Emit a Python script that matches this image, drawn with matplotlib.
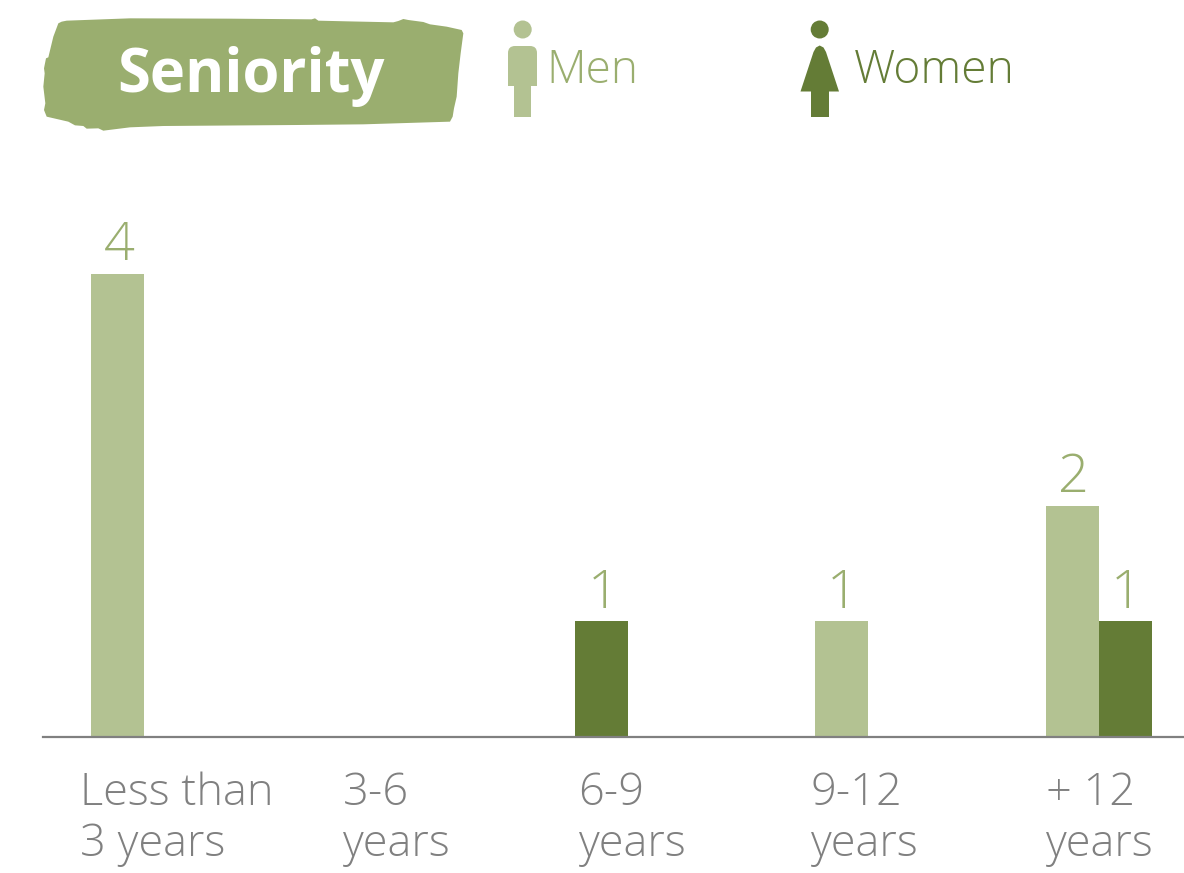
import matplotlib
matplotlib.use("Agg")
import matplotlib.pyplot as plt
from matplotlib.patches import Polygon, Circle, FancyBboxPatch, Rectangle
from matplotlib import font_manager as fm

# Chart data
categories = ["Less than\n3 years", "3-6\nyears", "6-9\nyears", "9-12\nyears", "+ 12\nyears"]
men = [4, 0, 0, 1, 2]
women = [0, 0, 1, 0, 1]

# Layout, in figure pixels
W, H = 1184, 873
BASE_Y, TOP_Y = 737, 274
AXIS_LEFT = 43
men_left = [91, 322, 522, 814.5, 1046]
women_left = [144, 375, 575, 868, 1098.5]
label_left = [80.5, 343, 578.5, 810.5, 1046]
BAR_W = 53

LIGHT = "#b3c292"
DARK = "#647c36"
BRUSH = "#9aae6f"
GREY = "#808080"

names = {f.name for f in fm.fontManager.ttflist}
family = "Open Sans" if "Open Sans" in names else "DejaVu Sans"
plt.rcParams["font.family"] = family

fig = plt.figure(figsize=(W / 100, H / 100), dpi=100, facecolor="white")

# Bars on a linear axis whose baseline and top are set in pixels
ax = fig.add_axes([AXIS_LEFT / W, 1 - BASE_Y / H, (W - AXIS_LEFT) / W, (BASE_Y - TOP_Y) / H])
ax.set_xlim(AXIS_LEFT, W)
ax.set_ylim(0, 4)
ax.patch.set_alpha(0)
for side in ("top", "left", "right"):
    ax.spines[side].set_visible(False)
ax.spines["bottom"].set_color(GREY)
ax.spines["bottom"].set_linewidth(1.6)
ax.set_yticks([])
ax.set_xticks(label_left, categories, ha="left", color=GREY, fontsize=32.5,
              fontweight="light", linespacing=1.22)
ax.tick_params(axis="x", length=0, pad=24.5)


def draw_series(lefts, values, color):
    for x, v in zip(lefts, values):
        if v:
            ax.bar(x, v, width=BAR_W, align="edge", color=color, clip_on=False, zorder=2)
            ax.annotate(str(v), (x + BAR_W / 2, v), xytext=(1, 0.5), textcoords="offset points",
                        ha="center", va="bottom", color=BRUSH, fontsize=39,
                        fontweight="light", annotation_clip=False)


draw_series(men_left, men, LIGHT)
draw_series(women_left, women, DARK)

# Header artwork drawn in pixel coordinates
deco = fig.add_axes([0, 0, 1, 1], zorder=5)
deco.set_xlim(0, W)
deco.set_ylim(H, 0)
deco.axis("off")

# Brush-stroke outline, with a slightly torn edge
brush_zoom = [(95, 65), (110, 62), (300, 55), (600, 56), (845, 58), (855, 55), (865, 62), (950, 64),
              (1090, 67), (1105, 63), (1120, 57), (1135, 60), (1180, 66), (1200, 73), (1250, 80),
              (1295, 90), (1300, 100), (1292, 160), (1285, 220), (1280, 290), (1272, 325), (1268, 350),
              (1260, 365), (1000, 373), (800, 375), (400, 378), (300, 382), (220, 392), (205, 385),
              (170, 386), (160, 378), (135, 376), (115, 365), (50, 350), (42, 330), (46, 310),
              (40, 260), (44, 220), (42, 205), (48, 175), (55, 172), (70, 110), (85, 70)]
brush = [(30 + x / 3, y / 3) for x, y in brush_zoom]
deco.add_patch(Polygon(brush, closed=True, facecolor=BRUSH, edgecolor="none"))
deco.text(250.5, 92, "Seniority", color="white", fontsize=43, fontweight="bold",
          ha="center", va="baseline")

# Men pictogram
deco.add_patch(Circle((522.7, 29.5), 9, facecolor=LIGHT, edgecolor="none"))
deco.add_patch(FancyBboxPatch((508, 46), 29, 30, boxstyle="round,pad=0,rounding_size=7",
                              facecolor=LIGHT, edgecolor="none"))
deco.add_patch(Rectangle((508, 60), 29, 26, facecolor=LIGHT, edgecolor="none"))
deco.add_patch(Rectangle((514, 85), 17, 32, facecolor=LIGHT, edgecolor="none"))
deco.text(546.5, 83, "Men", color=BRUSH, fontsize=33, fontweight="light", va="baseline")

# Women pictogram
deco.add_patch(Circle((819.7, 29.5), 9, facecolor=DARK, edgecolor="none"))
deco.add_patch(Polygon([(800.5, 91.5), (813.5, 52), (816, 47.5), (819.7, 45.5), (823.5, 47.5),
                        (826, 52), (839, 91.5)], closed=True, facecolor=DARK, edgecolor="none"))
deco.add_patch(Rectangle((811, 90), 18, 27, facecolor=DARK, edgecolor="none"))
deco.text(854, 83, "Women", color=DARK, fontsize=33.3, fontweight="light", va="baseline")

fig.savefig("out.png", dpi=100, facecolor="white")
